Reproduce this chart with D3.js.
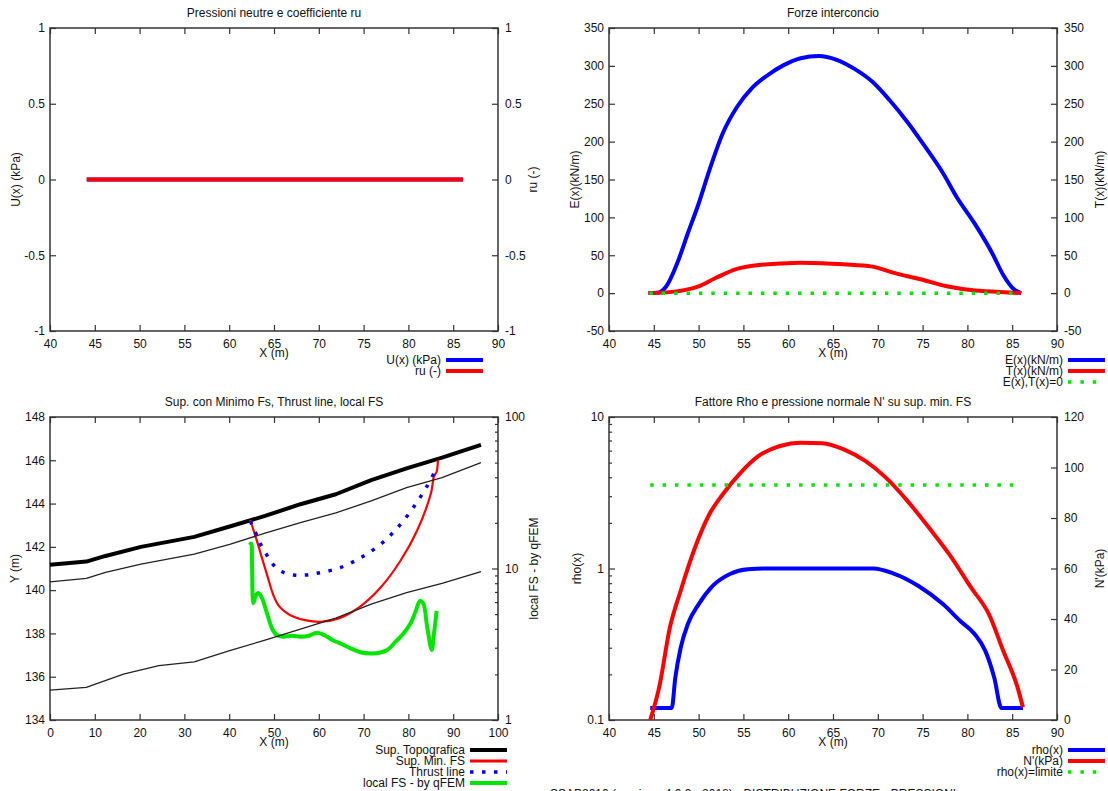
<!DOCTYPE html>
<html>
<head>
<meta charset="utf-8">
<script src="https://cdn.jsdelivr.net/npm/d3@7"></script>
<style>
  body { margin: 0; background: #fff; }
  svg { display: block; font-family: "Liberation Sans", Arial, sans-serif; font-size: 12px; }
  .tick line { stroke: #333; stroke-width: 1.2; }
  .tick text { fill: #111; font-size: 12px; }
  .lbl { fill: #111; font-size: 12px; }
</style>
</head>
<body>
<svg id="chart" width="1108" height="791"></svg>
<script>
// ---- panel 1: pressioni neutre
const ruX = [44.1, 86.1]
const uVal = [0, 0]
const ruVal = [0, 0]

// ---- panel 2: forze interconcio
const eX = [44.4, 45.6, 46.4, 47.6, 48.8, 50.0, 51.2, 52.7, 54.3, 55.9, 57.5, 59.5, 61.4, 63.4, 65.4, 67.4, 69.4, 71.3, 73.3, 75.3, 77.3, 78.8, 80.8, 82.8, 84.0, 85.2, 86.0]
const eVal = [0, 1, 9, 39, 79, 118, 162, 211, 246, 270, 286, 301, 310, 313, 308, 296, 279, 255, 226, 193, 158, 127, 92, 52, 24, 5, 0]
const tX = [44.4, 46.4, 48.4, 50.0, 51.9, 54.3, 56.7, 59.1, 61.4, 63.8, 66.2, 69.4, 71.7, 74.9, 77.7, 80.4, 83.6, 86.0]
const tVal = [0, 1, 4, 9, 20, 32, 37, 39, 40, 39.5, 38, 35, 27, 18, 9, 4, 1.5, 0]
const zeroX = [44.5, 85.8]
const zeroVal = [0, 0]

// ---- panel 3: superficie, thrust line, local FS
const topoX = [0, 8.1, 12.4, 20.3, 32.2, 40.1, 48.0, 55.9, 63.8, 71.7, 79.6, 87.5, 96.2]
const topoY = [141.17, 141.32, 141.58, 142.0, 142.46, 142.94, 143.43, 143.97, 144.43, 145.08, 145.63, 146.12, 146.71]
const layer1Y = [140.38, 140.54, 140.82, 141.2, 141.66, 142.12, 142.63, 143.12, 143.57, 144.12, 144.74, 145.2, 145.89]
const layer2X = [0, 8.1, 16.4, 24.3, 32.2, 40.1, 48.0, 55.9, 63.8, 71.7, 79.6, 87.5, 96.2]
const layer2Y = [135.38, 135.51, 136.12, 136.51, 136.69, 137.2, 137.69, 138.2, 138.71, 139.35, 139.88, 140.31, 140.86]
const slipX = [44.7, 46.0, 47.3, 48.6, 49.9, 51.0, 52.5, 54.4, 57.2, 60.4, 64.8, 69.3, 73.8, 78.3, 82.0, 85.0, 85.7, 86.3, 86.6]
const slipY = [143.24, 142.4, 141.5, 140.6, 139.75, 139.3, 139.0, 138.77, 138.6, 138.54, 138.72, 139.25, 140.12, 141.38, 142.78, 144.45, 145.24, 145.47, 146.0]
const thrustX = [44.7, 45.8, 46.9, 48.4, 49.9, 51.8, 54.4, 57.0, 59.6, 64.8, 69.7, 74.2, 77.9, 81.25, 84.1, 85.7]
const thrustY = [143.19, 142.7, 142.16, 141.62, 141.16, 140.85, 140.7, 140.7, 140.78, 141.04, 141.54, 142.19, 142.96, 143.86, 144.78, 145.4]
const fsX = [44.6, 44.9, 45.1, 45.4, 45.9, 46.5, 47.3, 48.5, 49.6, 50.6, 52.0, 54.0, 55.9, 57.8, 59.6, 61.5, 63.2, 64.8, 67.0, 69.3, 71.6, 73.5, 75.3, 77.2, 78.8, 80.5, 81.6, 82.6, 83.3, 84.2, 85.2, 85.7, 86.3]
const fsVal = [14.3, 14.6, 10.5, 5.9, 6.6, 6.9, 6.4, 5.0, 4.0, 3.64, 3.55, 3.6, 3.55, 3.6, 3.77, 3.6, 3.35, 3.2, 2.98, 2.8, 2.75, 2.78, 2.9, 3.3, 3.69, 4.35, 5.2, 6.1, 5.9, 4.1, 2.9, 3.7, 5.25]

// ---- panel 4: rho e N'
const rhoX = [44.6, 47.0, 47.4, 48.0, 48.8, 50.0, 51.6, 53.5, 55.5, 57.5, 69.5, 71.7, 74.5, 77.3, 79.2, 80.8, 82.0, 83.0, 83.8, 86.2]
const rhoVal = [0.12, 0.12, 0.19, 0.30, 0.43, 0.58, 0.77, 0.92, 0.99, 1.0, 1.0, 0.93, 0.77, 0.58, 0.45, 0.37, 0.286, 0.19, 0.12, 0.12]
const nX = [44.6, 45.6, 46.8, 48.0, 49.6, 51.2, 52.7, 54.7, 56.7, 59.1, 61.4, 63.8, 66.2, 68.6, 70.9, 73.3, 75.7, 78.1, 80.4, 82.4, 84.0, 85.6, 86.2]
const nVal = [0, 12.9, 36.7, 51.2, 68.3, 81.5, 89.4, 98, 104.6, 108.5, 109.8, 109.6, 107.2, 102.6, 96, 86.8, 76.2, 65, 52.5, 41.9, 27.4, 12.9, 5]
const limX = [44.6, 85.6]
const limVal = [3.56, 3.56]

// ---- ticks
const xTicks40 = d3.range(40, 91, 5)
const xTicks0 = d3.range(0, 101, 10)
const ruTicks = [-1, -0.5, 0, 0.5, 1]
const forceTicks = d3.range(-50, 351, 50)
const yTicks3 = d3.range(134, 149, 2)
const fsTicks = [1, 10, 100]
const fsMinor = [2, 3, 4, 5, 6, 7, 8, 9, 20, 30, 40, 50, 60, 70, 80, 90]
const rhoTicks = [0.1, 1, 10]
const rhoMinor = [0.2, 0.3, 0.4, 0.5, 0.6, 0.7, 0.8, 0.9, 2, 3, 4, 5, 6, 7, 8, 9]
const nTicks = d3.range(0, 121, 20)

const svg = d3.select("#chart")
const W = 448, H = 303
const BLUE = "#0000ff", RED = "#ff0000", GREEN = "#00e600"

function panel(cfg) {
    const g = svg.append("g").attr("transform", `translate(${cfg.left},${cfg.top})`)
    const x = cfg.x, yL = cfg.yL, yR = cfg.yR
    const fmt = d => String(d)

    g.append("g").attr("transform", `translate(0,${H})`)
        .call(d3.axisBottom(x).tickValues(cfg.xTicks).tickSize(-6).tickPadding(8).tickFormat(fmt))
    g.append("g")
        .call(d3.axisTop(x).tickValues(cfg.xTicks).tickSize(-6).tickFormat(""))
    g.append("g")
        .call(d3.axisLeft(yL).tickValues(cfg.yLTicks).tickSize(-6).tickPadding(5).tickFormat(fmt))
    g.append("g").attr("transform", `translate(${W},0)`)
        .call(d3.axisRight(yR).tickValues(cfg.yRTicks).tickSize(-6).tickPadding(7).tickFormat(fmt))
    if (cfg.yLMinor)
        g.append("g").call(d3.axisLeft(yL).tickValues(cfg.yLMinor).tickSize(-3).tickFormat(""))
    if (cfg.yRMinor)
        g.append("g").attr("transform", `translate(${W},0)`)
            .call(d3.axisRight(yR).tickValues(cfg.yRMinor).tickSize(-3).tickFormat(""))
    g.selectAll(".domain").remove()

    g.append("rect")
        .attr("width", W).attr("height", H)
        .attr("fill", "none").attr("stroke", "#333").attr("stroke-width", 1.5)

    g.append("text").attr("class", "lbl")
        .attr("x", W / 2).attr("y", -11)
        .attr("text-anchor", "middle")
        .text(cfg.title)
    g.append("text").attr("class", "lbl")
        .attr("x", W / 2).attr("y", H + 26)
        .attr("text-anchor", "middle")
        .text("X (m)")
    g.append("text").attr("class", "lbl")
        .attr("transform", `translate(${cfg.yLPos},${H / 2}) rotate(-90)`)
        .attr("dy", "0.35em").attr("text-anchor", "middle")
        .text(cfg.yLLabel)
    g.append("text").attr("class", "lbl")
        .attr("transform", `translate(${cfg.yRPos},${H / 2}) rotate(-90)`)
        .attr("dy", "0.35em").attr("text-anchor", "middle")
        .text(cfg.yRLabel)

    cfg.series.forEach(s => {
        const pts = s.xs.map((v, i) => [v, s.ys[i]])
        const ys = s.axis === "R" ? yR : yL
        const line = d3.line().x(d => x(d[0])).y(d => ys(d[1])).curve(s.curve || d3.curveLinear)
        g.append("path")
            .attr("d", line(pts))
            .attr("fill", "none")
            .attr("stroke", s.color)
            .attr("stroke-width", s.width)
            .attr("stroke-dasharray", s.dash || null)
            .attr("stroke-linejoin", "round")
    })

    const leg = svg.append("g").attr("transform", `translate(${cfg.legX},${cfg.legY})`)
    cfg.series.filter(s => s.label).forEach((s, i) => {
        const y = i * 11
        leg.append("text").attr("class", "lbl")
            .attr("x", 0).attr("y", y).attr("dy", "0.35em")
            .attr("text-anchor", "end")
            .text(s.label)
        leg.append("line")
            .attr("x1", 5).attr("x2", 42).attr("y1", y).attr("y2", y)
            .attr("stroke", s.color)
            .attr("stroke-width", s.legWidth || s.width)
            .attr("stroke-dasharray", s.dash || null)
    })
}

// panel 1
panel({
    left: 50, top: 28,
    x: d3.scaleLinear().domain([40, 90]).range([0, W]),
    yL: d3.scaleLinear().domain([-1, 1]).range([H, 0]),
    yR: d3.scaleLinear().domain([-1, 1]).range([H, 0]),
    xTicks: xTicks40, yLTicks: ruTicks, yRTicks: ruTicks,
    title: "Pressioni neutre e coefficiente ru",
    yLLabel: "U(x) (kPa)", yLPos: -34,
    yRLabel: "ru (-)", yRPos: W + 35,
    legX: 441, legY: 360,
    series: [
        { xs: ruX, ys: uVal, color: BLUE, width: 4, label: "U(x) (kPa)" },
        { xs: ruX, ys: ruVal, axis: "R", color: RED, width: 4, label: "ru (-)" }
    ]
})

// panel 2
panel({
    left: 609, top: 28,
    x: d3.scaleLinear().domain([40, 90]).range([0, W]),
    yL: d3.scaleLinear().domain([-50, 350]).range([H, 0]),
    yR: d3.scaleLinear().domain([-50, 350]).range([H, 0]),
    xTicks: xTicks40, yLTicks: forceTicks, yRTicks: forceTicks,
    title: "Forze interconcio",
    yLLabel: "E(x)(kN/m)", yLPos: -34,
    yRLabel: "T(x)(kN/m)", yRPos: W + 43,
    legX: 1063, legY: 360,
    series: [
        { xs: eX, ys: eVal, color: BLUE, width: 4, curve: d3.curveMonotoneX, label: "E(x)(kN/m)" },
        { xs: tX, ys: tVal, axis: "R", color: RED, width: 4, curve: d3.curveMonotoneX, label: "T(x)(kN/m)" },
        { xs: zeroX, ys: zeroVal, color: GREEN, width: 3.5, dash: "3.5,8.9", label: "E(x),T(x)=0" }
    ]
})

// panel 3
panel({
    left: 50, top: 417,
    x: d3.scaleLinear().domain([0, 100]).range([0, W]),
    yL: d3.scaleLinear().domain([134, 148]).range([H, 0]),
    yR: d3.scaleLog().domain([1, 100]).range([H, 0]),
    xTicks: xTicks0, yLTicks: yTicks3, yRTicks: fsTicks, yRMinor: fsMinor,
    title: "Sup. con Minimo Fs, Thrust line, local FS",
    yLLabel: "Y (m)", yLPos: -35,
    yRLabel: "local FS - by qFEM", yRPos: W + 36,
    legX: 465, legY: 750,
    series: [
        { xs: topoX, ys: topoY, color: "#000", width: 4, label: "Sup. Topografica" },
        { xs: slipX, ys: slipY, color: RED, width: 2.2, curve: d3.curveCatmullRom, legWidth: 3, label: "Sup. Min. FS" },
        { xs: thrustX, ys: thrustY, color: BLUE, width: 3.5, dash: "3.5,8.5", curve: d3.curveCatmullRom, label: "Thrust line" },
        { xs: fsX, ys: fsVal, axis: "R", color: GREEN, width: 4, curve: d3.curveCatmullRom, label: "local FS - by qFEM" },
        { xs: topoX, ys: layer1Y, color: "#222", width: 1.3 },
        { xs: layer2X, ys: layer2Y, color: "#222", width: 1.3 }
    ]
})

// panel 4
panel({
    left: 609, top: 417,
    x: d3.scaleLinear().domain([40, 90]).range([0, W]),
    yL: d3.scaleLog().domain([0.1, 10]).range([H, 0]),
    yR: d3.scaleLinear().domain([0, 120]).range([H, 0]),
    xTicks: xTicks40, yLTicks: rhoTicks, yLMinor: rhoMinor, yRTicks: nTicks,
    title: "Fattore Rho e pressione normale N' su sup. min. FS",
    yLLabel: "rho(x)", yLPos: -32,
    yRLabel: "N'(kPa)", yRPos: W + 43,
    legX: 1063, legY: 750,
    series: [
        { xs: rhoX, ys: rhoVal, color: BLUE, width: 4, curve: d3.curveMonotoneX, label: "rho(x)" },
        { xs: nX, ys: nVal, axis: "R", color: RED, width: 4, curve: d3.curveMonotoneX, label: "N'(kPa)" },
        { xs: limX, ys: limVal, color: GREEN, width: 3.5, dash: "3.5,8.9", label: "rho(x)=limite" }
    ]
})

// footer, cut off at the bottom edge as in the original
svg.append("text").attr("class", "lbl")
    .attr("x", 550).attr("y", 798)
    .text("SSAP2010 (versione 4.9.9 - 2018) - DISTRIBUZIONE FORZE - PRESSIONI")
</script>
</body>
</html>
